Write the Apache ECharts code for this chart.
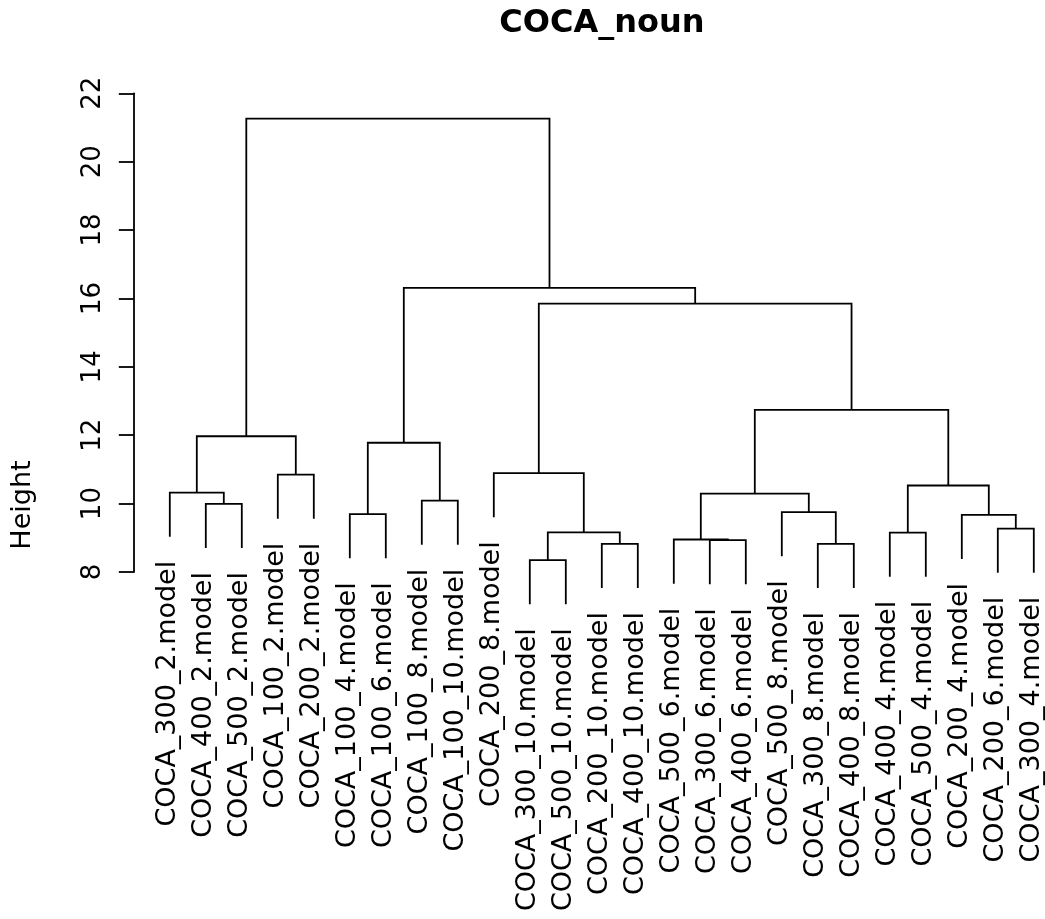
<!DOCTYPE html>
<html>
<head>
<meta charset="utf-8">
<script src="https://cdn.jsdelivr.net/npm/echarts@6/dist/echarts.min.js"></script>
<style>
html,body{margin:0;padding:0;background:#fff;}
#chart{width:1045px;height:919px;}
</style>
</head>
<body>
<div id="chart"></div>
<script>
// ---- data ----
const chartTitle = 'COCA_noun';
const yAxisName = 'Height';
const leafLabels = [
  'COCA_300_2.model','COCA_400_2.model','COCA_500_2.model','COCA_100_2.model','COCA_200_2.model',
  'COCA_100_4.model','COCA_100_6.model','COCA_100_8.model','COCA_100_10.model','COCA_200_8.model',
  'COCA_300_10.model','COCA_500_10.model','COCA_200_10.model','COCA_400_10.model','COCA_500_6.model',
  'COCA_300_6.model','COCA_400_6.model','COCA_500_8.model','COCA_300_8.model','COCA_400_8.model',
  'COCA_400_4.model','COCA_500_4.model','COCA_200_4.model','COCA_200_6.model','COCA_300_4.model'
];
// R-style merge table: negative = leaf (1-based, in display order), positive = earlier merge row (1-based)
const mergeLeft  = [-2, -1, -4, 2, -6, -8, 5, -11, -13, 8, -10, -16, -15, -19, -18, 13, -21, -24, -23, 17, 16, 11, 7, 4];
const mergeRight = [-3,  1, -5, 3, -7, -9, 6, -12, -14, 9,  10, -17,  12, -20,  14, 15, -22, -25,  18, 19, 20, 21, 22, 23];
const mergeHeight = [9.99, 10.32, 10.85, 11.97, 9.69, 10.09, 11.78, 8.35, 8.82, 9.16, 10.89, 8.93, 8.95, 8.82, 9.75, 10.29, 9.15, 9.27, 9.67, 10.53, 12.74, 15.85, 16.31, 21.26];
const HANG = 1.29;
const yTicks = {min: 8, max: 22, interval: 2};

// ---- build tree geometry (in data units) ----
const nodeX = [];
const links = [];
const leafEnd = new Array(leafLabels.length);
for (let k = 0; k < mergeHeight.length; k++) {
  const h = mergeHeight[k];
  const ends = [mergeLeft[k], mergeRight[k]].map(c => {
    if (c < 0) { const i = -c - 1; leafEnd[i] = h - HANG; return [i, h - HANG]; }
    return [nodeX[c - 1], mergeHeight[c - 1]];
  });
  nodeX[k] = (ends[0][0] + ends[1][0]) / 2;
  links.push([ends[0][0], ends[1][0], ends[0][1], ends[1][1], h]);
}
const leafData = leafLabels.map((n, i) => [i, leafEnd[i]]);

const FONT = '"DejaVu Sans", "Liberation Sans", sans-serif';
const LW = 1.8;
const chart = echarts.init(document.getElementById('chart'), null, {renderer: 'canvas'});
chart.setOption({
  animation: false,
  backgroundColor: '#fff',
  grid: {left: 133.8, right: 11.2, top: 93.3, bottom: 347},
  xAxis: {type: 'value', min: -1, max: 24, show: false},
  yAxis: {
    type: 'value', min: yTicks.min, max: yTicks.max, interval: yTicks.interval,
    axisLine: {show: true, onZero: false, lineStyle: {color: '#000', width: LW}},
    axisTick: {show: true, length: 15, lineStyle: {color: '#000', width: LW}},
    axisLabel: {rotate: 90, margin: 28, color: '#000', fontSize: 26, fontFamily: FONT},
    splitLine: {show: false}
  },
  graphic: [
    {type: 'text', x: 602, y: 24, style: {text: chartTitle, font: 'bold 32px ' + FONT, fill: '#000', align: 'center', verticalAlign: 'middle'}},
    {type: 'text', x: 23, y: 505, rotation: Math.PI / 2, style: {text: yAxisName, font: '27px ' + FONT, fill: '#000', align: 'center', verticalAlign: 'middle'}}
  ],
  series: [
    {
      type: 'custom', clip: false, silent: true,
      data: links,
      encode: {x: [0, 1], y: [2, 3, 4]},
      renderItem: function (params, api) {
        const xl = api.value(0), xr = api.value(1), yl = api.value(2), yr = api.value(3), h = api.value(4);
        return {
          type: 'polyline',
          shape: {points: [api.coord([xl, yl]), api.coord([xl, h]), api.coord([xr, h]), api.coord([xr, yr])]},
          style: {stroke: '#000', lineWidth: LW, fill: null}
        };
      }
    },
    {
      type: 'custom', clip: false, silent: true,
      data: leafData,
      encode: {x: 0, y: 1},
      renderItem: function (params, api) {
        const p = api.coord([api.value(0), api.value(1)]);
        return {
          type: 'text', x: p[0] - 2, y: p[1] + 24, rotation: Math.PI / 2,
          style: {text: leafLabels[params.dataIndex], font: '27px ' + FONT, fill: '#000', align: 'right', verticalAlign: 'middle'}
        };
      }
    }
  ]
});
</script>
</body>
</html>
